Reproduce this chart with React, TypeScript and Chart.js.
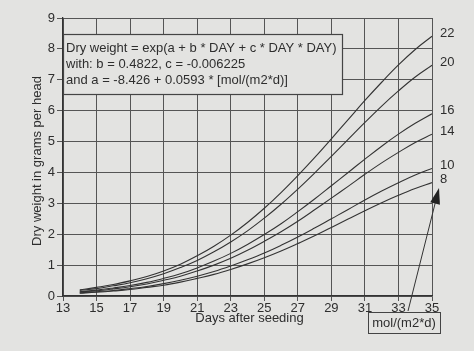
import React, { useEffect, useRef } from "react";
import { Chart, registerables } from "chart.js";

Chart.register(...registerables);

const days = [14, 15, 16, 17, 18, 19, 20, 21, 22, 23, 24, 25, 26, 27, 28, 29, 30, 31, 32, 33, 34, 35];
const lightLevels = ["22", "20", "16", "14", "10", "8"];
const dw22 = [0.20, 0.28, 0.37, 0.49, 0.63, 0.81, 1.03, 1.30, 1.61, 1.97, 2.38, 2.84, 3.35, 3.90, 4.48, 5.09, 5.71, 6.33, 6.92, 7.48, 7.98, 8.41];
const dw20 = [0.18, 0.24, 0.33, 0.43, 0.56, 0.72, 0.92, 1.15, 1.43, 1.75, 2.11, 2.52, 2.97, 3.46, 3.98, 4.52, 5.07, 5.62, 6.15, 6.64, 7.09, 7.47];
const dw16 = [0.14, 0.19, 0.26, 0.34, 0.44, 0.57, 0.72, 0.91, 1.13, 1.38, 1.67, 1.99, 2.34, 2.73, 3.14, 3.57, 4.00, 4.43, 4.85, 5.24, 5.59, 5.90];
const dw14 = [0.13, 0.17, 0.23, 0.30, 0.39, 0.51, 0.64, 0.81, 1.00, 1.22, 1.48, 1.77, 2.08, 2.42, 2.79, 3.17, 3.55, 3.94, 4.31, 4.65, 4.97, 5.24];
const dw10 = [0.10, 0.14, 0.18, 0.24, 0.31, 0.40, 0.51, 0.64, 0.79, 0.97, 1.17, 1.39, 1.64, 1.91, 2.20, 2.50, 2.80, 3.11, 3.40, 3.67, 3.92, 4.13];
const dw8 = [0.09, 0.12, 0.16, 0.21, 0.28, 0.35, 0.45, 0.57, 0.70, 0.86, 1.04, 1.24, 1.46, 1.70, 1.95, 2.22, 2.49, 2.76, 3.02, 3.26, 3.48, 3.67];
const seriesValues = [dw22, dw20, dw16, dw14, dw10, dw8];

const xTicks = [13, 15, 17, 19, 21, 23, 25, 27, 29, 31, 33, 35];
const formulaLines = [
  "Dry weight = exp(a + b * DAY + c * DAY * DAY)",
  "with: b = 0.4822, c = -0.006225",
  "and a = -8.426 + 0.0593 * [mol/(m2*d)]",
];
const unitLabel = "mol/(m2*d)";
const xTitle = "Days after seeding";
const yTitle = "Dry weight in grams per head";

const FONT = "'Liberation Sans', Arial, sans-serif";
const INK = "#2e2e2e";
const BG = "#e3e3e1";

const overlay = {
  id: "overlay",
  beforeDraw(chart: any) {
    const ctx = chart.ctx;
    ctx.save();
    ctx.fillStyle = BG;
    ctx.fillRect(0, 0, chart.width, chart.height);
    ctx.restore();
  },
  afterDraw(chart: any) {
    const ctx = chart.ctx;
    const xs = chart.scales.x;
    const ys = chart.scales.y;
    const area = chart.chartArea;
    ctx.save();
    // formula box
    const bx = 63, by = 34, bw = 279, bh = 60;
    ctx.fillStyle = BG;
    ctx.fillRect(bx, by, bw, bh);
    ctx.strokeStyle = "#444";
    ctx.lineWidth = 1.2;
    ctx.strokeRect(bx + 0.5, by + 0.5, bw, bh);
    ctx.fillStyle = INK;
    ctx.font = `13px ${FONT}`;
    ctx.textBaseline = "middle";
    ctx.textAlign = "left";
    formulaLines.forEach((t, i) => ctx.fillText(t, bx + 3, by + 14 + i * 16));

    // curve labels
    ctx.font = `13px ${FONT}`;
    seriesValues.forEach((arr, i) => {
      const y = ys.getPixelForValue(arr[arr.length - 1]);
      ctx.fillText(lightLevels[i], area.right + 8, y - 3);
    });

    // unit box
    const ux = 368, uy = 312, uw = 72, uh = 21;
    ctx.strokeStyle = "#444";
    ctx.lineWidth = 1;
    ctx.strokeRect(ux + 0.5, uy + 0.5, uw, uh);
    ctx.textAlign = "center";
    ctx.fillText(unitLabel, ux + uw / 2, uy + uh / 2 + 1);

    // arrow
    const x0 = 408, y0 = 311, x1 = 439, y1 = 188;
    const ang = Math.atan2(y1 - y0, x1 - x0);
    ctx.strokeStyle = "#333";
    ctx.lineWidth = 1;
    ctx.beginPath();
    ctx.moveTo(x0, y0);
    ctx.lineTo(x1 - Math.cos(ang) * 10, y1 - Math.sin(ang) * 10);
    ctx.stroke();
    ctx.fillStyle = "#222";
    const L = 16, W = 5;
    const bxp = x1 - Math.cos(ang) * L, byp = y1 - Math.sin(ang) * L;
    ctx.beginPath();
    ctx.moveTo(x1, y1);
    ctx.lineTo(bxp + Math.sin(ang) * W, byp - Math.cos(ang) * W);
    ctx.lineTo(bxp - Math.sin(ang) * W, byp + Math.cos(ang) * W);
    ctx.closePath();
    ctx.fill();

    // axis titles
    ctx.fillStyle = INK;
    ctx.font = `13px ${FONT}`;
    ctx.textAlign = "center";
    ctx.fillText(xTitle, (area.left + area.right) / 2 + 2, 318);
    ctx.translate(37, (area.top + area.bottom) / 2 + 4);
    ctx.rotate(-Math.PI / 2);
    ctx.fillText(yTitle, 0, 0);
    ctx.restore();
  },
};

export default function App() {
  const ref = useRef<HTMLCanvasElement | null>(null);
  useEffect(() => {
    if (!ref.current) return;
    const chart = new Chart(ref.current, {
      type: "line",
      data: {
        datasets: seriesValues.map((arr, i) => ({
          label: lightLevels[i],
          data: arr.map((v, j) => ({ x: days[j], y: v })),
          borderColor: "#333",
          borderWidth: 1.1,
          pointRadius: 0,
          tension: 0.4,
          fill: false,
        })),
      },
      options: {
        responsive: false,
        animation: false,
        events: [],
        layout: { padding: { top: 18, right: 42, left: 0, bottom: 0 } },
        plugins: { legend: { display: false }, tooltip: { enabled: false }, title: { display: false } },
        scales: {
          x: {
            type: "linear",
            min: 13,
            max: 35,
            afterBuildTicks: (s: any) => {
              s.ticks = xTicks.map((v) => ({ value: v }));
            },
            afterFit: (s: any) => {
              s.height = 55;
            },
            ticks: { color: INK, font: { family: FONT, size: 13 }, padding: 0, maxRotation: 0, autoSkip: false },
            grid: { color: "#555", lineWidth: 1, tickLength: 5, drawTicks: true },
            border: { color: "#333", width: 1.3 },
          },
          y: {
            min: 0,
            max: 9,
            ticks: { stepSize: 1, color: INK, font: { family: FONT, size: 13 }, padding: 2 },
            afterFit: (s: any) => {
              s.width = 63;
            },
            grid: { color: "#555", lineWidth: 1, tickLength: 6, drawTicks: true },
            border: { color: "#333", width: 1.3 },
          },
        },
      },
      plugins: [overlay],
    } as any);
    return () => chart.destroy();
  }, []);
  return (
    <div style={{ position: "absolute", left: 0, top: 0, width: 474, height: 351 }}>
      <canvas ref={ref} width={474} height={351} style={{ width: 474, height: 351, display: "block" }} />
    </div>
  );
}
